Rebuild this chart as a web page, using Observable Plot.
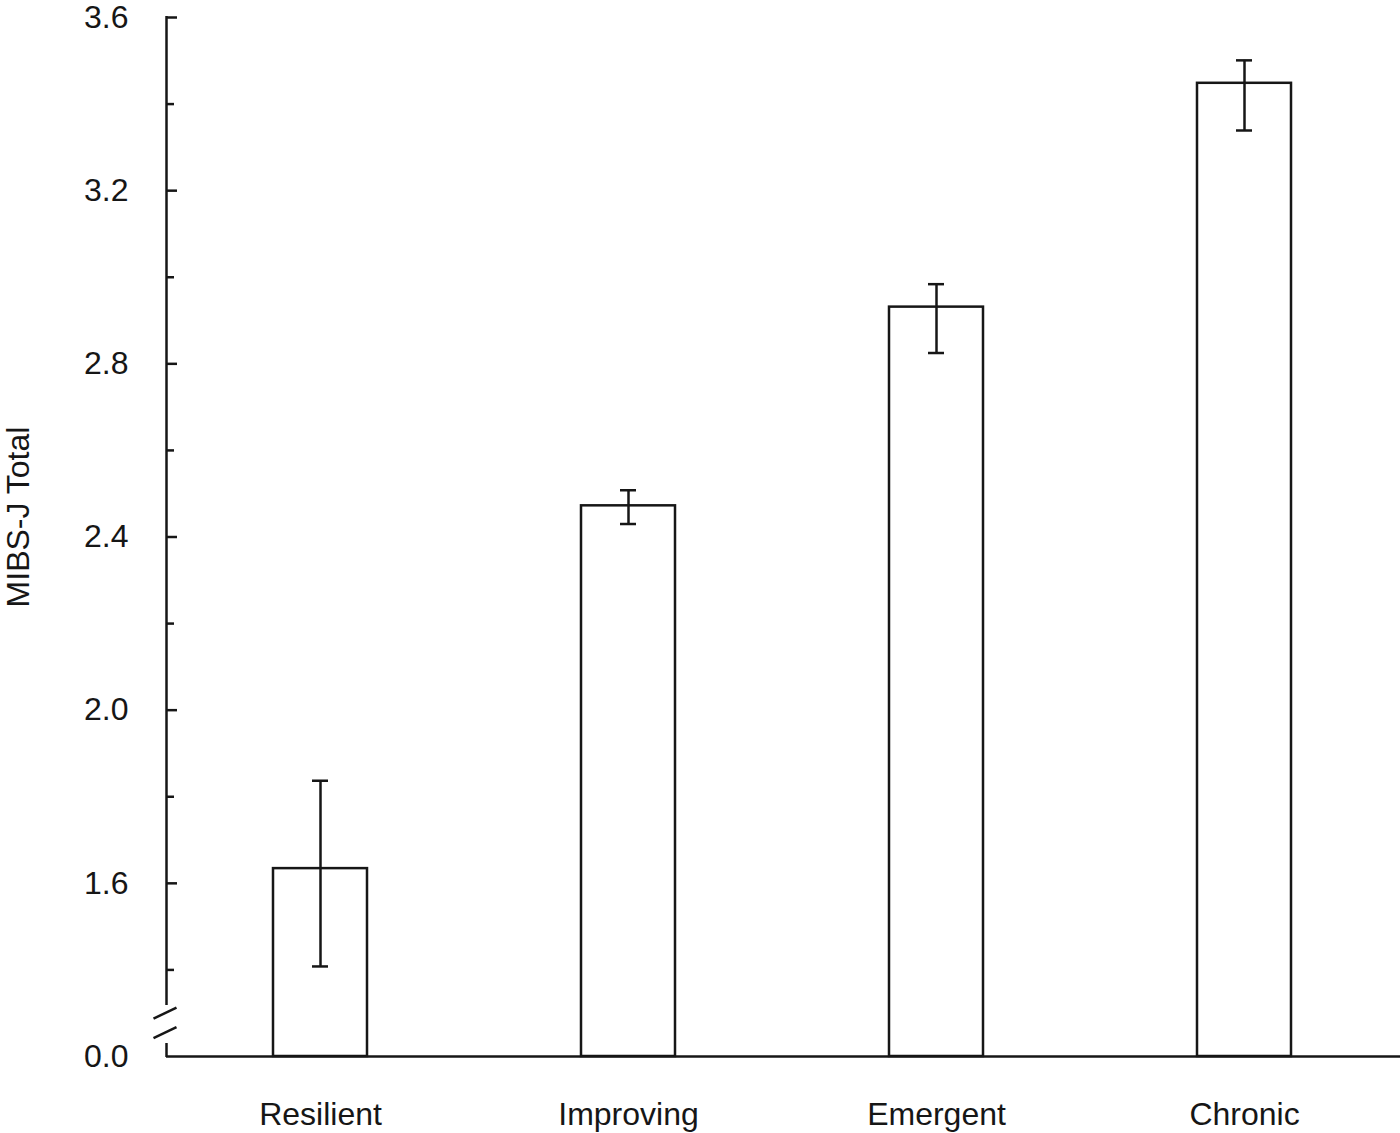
<!DOCTYPE html>
<html><head><meta charset="utf-8">
<script src="https://cdn.jsdelivr.net/npm/d3@7"></script>
<script src="https://cdn.jsdelivr.net/npm/@observablehq/plot@0.6"></script>
<style>body{margin:0;background:#fff} svg{display:block}</style>
</head><body><div id="chart"></div>
<script>
// Data (y axis is broken: bottom "0.0" sits where 1.2 would be)
const groups = ["Resilient", "Improving", "Emergent", "Chronic"];
const means = [1.634, 2.472, 2.931, 3.448];
const errLow = [1.408, 2.430, 2.825, 3.339];
const errHigh = [1.837, 2.508, 2.984, 3.501];
const yMajorTicks = [1.2, 1.6, 2.0, 2.4, 2.8, 3.2, 3.6];
const yMajorLabels = ["0.0", "1.6", "2.0", "2.4", "2.8", "3.2", "3.6"];
const yMinorTicks = [1.4, 1.8, 2.2, 2.6, 3.0, 3.4];
const yLabel = "MIBS-J Total";
const breakGap = [1.230, 1.318];      // axis gap (value units)
const breakSlashes = [1.254, 1.299];  // centres of the two slashes

const data = groups.map((g, i) => ({group: g, mean: means[i], lo: errLow[i], hi: errHigh[i]}));
const W = 1400, H = 1133, mL = 166, mR = 2, mT = 17, mB = 77;
const frameW = W - mL - mR;
const ink = "#161616";
const sw = 2.5;

const plot = Plot.plot({
  width: W, height: H,
  marginLeft: mL, marginRight: mR, marginTop: mT, marginBottom: mB,
  style: {fontFamily: "'Liberation Sans', Arial, sans-serif", fontSize: "32px", color: ink, background: "#fff"},
  x: {domain: groups, padding: 0, label: null},
  y: {domain: [1.2, 3.6], clamp: true, label: null},
  marks: [
    Plot.barY(data, {x: "group", y1: 0, y2: "mean", fill: "white", stroke: ink, strokeWidth: sw, insetLeft: 107, insetRight: 107}),
    Plot.ruleX(data, {x: "group", y1: "lo", y2: "hi", stroke: ink, strokeWidth: sw}),
    Plot.tickY(data, {x: "group", y: "lo", stroke: ink, strokeWidth: sw, insetLeft: 146, insetRight: 146}),
    Plot.tickY(data, {x: "group", y: "hi", stroke: ink, strokeWidth: sw, insetLeft: 146, insetRight: 146}),
    Plot.ruleY([0], {stroke: ink, strokeWidth: sw, insetRight: -2}),
    Plot.ruleY(yMajorTicks.slice(1), {stroke: ink, strokeWidth: sw, insetRight: frameW - 11}),
    Plot.ruleY(yMinorTicks, {stroke: ink, strokeWidth: sw, insetRight: frameW - 8}),
    Plot.axisY({
      ticks: yMajorTicks,
      tickFormat: d => yMajorLabels[yMajorTicks.findIndex(t => Math.abs(t - d) < 1e-9)],
      tickSize: 0, tickPadding: 38, label: null
    }),
    Plot.text([yLabel], {frameAnchor: "left", text: d => d, rotate: -90, textAnchor: "middle", lineAnchor: "middle", dx: -148, dy: -20, fontSize: 32, fill: ink}),
    Plot.axisX({tickSize: 0, tickPadding: 46, label: null})
  ]
});

document.getElementById("chart").appendChild(plot);

// Broken y-axis line and break slashes, positioned through Plot's y scale
const ys = plot.scale("y");
const g = d3.select(plot).append("g").attr("stroke", ink).attr("stroke-width", sw).attr("fill", "none");
const ax = mL + 0.5;
g.append("line").attr("x1", ax).attr("x2", ax).attr("y1", ys.apply(3.6) - 1).attr("y2", ys.apply(breakGap[1]));
g.append("line").attr("x1", ax).attr("x2", ax).attr("y1", ys.apply(breakGap[0])).attr("y2", ys.apply(1.2) + 1);
breakSlashes.forEach(v => {
  const cy = ys.apply(v);
  g.append("line").attr("x1", ax - 13).attr("x2", ax + 10).attr("y1", cy + 5.5).attr("y2", cy - 5.5);
});
</script>
</body></html>
